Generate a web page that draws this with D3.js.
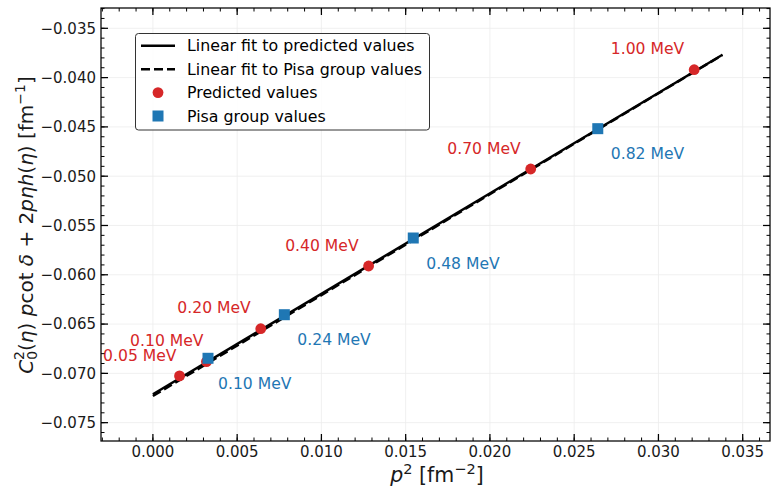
<!DOCTYPE html>
<html>
<head>
<meta charset="utf-8">
<script src="https://cdn.jsdelivr.net/npm/d3@7/dist/d3.min.js"></script>
<style>
  html, body { margin: 0; padding: 0; background: #fff; }
  svg { display: block; font-family: "DejaVu Sans", sans-serif; }
</style>
</head>
<body>
<svg id="chart" width="771" height="488"></svg>
<script>
// ---- data ----
const predEnergies = ["0.05 MeV", "0.10 MeV", "0.20 MeV", "0.40 MeV", "0.70 MeV", "1.00 MeV"];
const predP2 = [0.00158, 0.00318, 0.00640, 0.01280, 0.02242, 0.03212];
const predY = [-0.07026, -0.06881, -0.06547, -0.05911, -0.04927, -0.03920];

const pisaEnergies = ["0.10 MeV", "0.24 MeV", "0.48 MeV", "0.82 MeV"];
const pisaP2 = [0.00327, 0.00780, 0.01545, 0.02640];
const pisaY = [-0.06847, -0.06405, -0.05627, -0.04518];

const fitX = [0, 0.03380];
const predFitY = [-0.07212, -0.03768];
const pisaFitY = [-0.07230, -0.03770];

const xTicks = [0.000, 0.005, 0.010, 0.015, 0.020, 0.025, 0.030, 0.035];
const yTicks = [-0.075, -0.070, -0.065, -0.060, -0.055, -0.050, -0.045, -0.040, -0.035];
const legendLabels = ["Linear fit to predicted values", "Linear fit to Pisa group values", "Predicted values", "Pisa group values"];

// ---- layout ----
const svg = d3.select("#chart");
const L = 101, R = 770, T = 8, B = 441;
const red = "#d62728", blue = "#1f77b4";

const x = d3.scaleLinear().domain([-0.00308, 0.03662]).range([L, R]);
const y = d3.scaleLinear().domain([-0.07686, -0.03294]).range([B, T]);

const xMinor = d3.range(-3, 37).map(i => i * 0.001).filter(v => v >= x.domain()[0] && v <= x.domain()[1]);
const yMinor = d3.range(-76, -32).map(i => i * 0.001).filter(v => v >= y.domain()[0] && v <= y.domain()[1]);

// grid
const grid = svg.append("g");
grid.selectAll("line.gx").data(xTicks).join("line")
  .attr("x1", d => x(d)).attr("x2", d => x(d)).attr("y1", T).attr("y2", B)
  .attr("stroke", "#ececec").attr("stroke-width", 0.8);
grid.selectAll("line.gy").data(yTicks).join("line")
  .attr("y1", d => y(d)).attr("y2", d => y(d)).attr("x1", L).attr("x2", R)
  .attr("stroke", "#ececec").attr("stroke-width", 0.8);

// clip
svg.append("clipPath").attr("id", "clip").append("rect")
  .attr("x", L).attr("y", T).attr("width", R - L).attr("height", B - T);
const plot = svg.append("g").attr("clip-path", "url(#clip)");

const line = d3.line().x(d => x(d[0])).y(d => y(d[1]));
plot.append("path").datum(d3.zip(fitX, pisaFitY)).attr("d", line)
  .attr("fill", "none").attr("stroke", "#000").attr("stroke-width", 2.5)
  .attr("stroke-dasharray", "9,4");
plot.append("path").datum(d3.zip(fitX, predFitY)).attr("d", line)
  .attr("fill", "none").attr("stroke", "#000").attr("stroke-width", 2.5);

// markers
plot.selectAll("circle.pred").data(d3.range(predP2.length)).join("circle")
  .attr("cx", i => x(predP2[i])).attr("cy", i => y(predY[i])).attr("r", 5.4)
  .attr("fill", red);
const sq = 11;
plot.selectAll("rect.pisa").data(d3.range(pisaP2.length)).join("rect")
  .attr("x", i => x(pisaP2[i]) - sq / 2).attr("y", i => y(pisaY[i]) - sq / 2)
  .attr("width", sq).attr("height", sq).attr("fill", blue);

// annotations (offsets in pixels; the two lowest-energy labels sit closer)
svg.selectAll("text.pl").data(d3.range(predP2.length)).join("text")
  .attr("x", i => x(predP2[i]) - (i < 2 ? 3 : 10)).attr("y", i => y(predY[i]) - 21)
  .attr("dy", "0.36em").attr("text-anchor", "end")
  .attr("font-size", 15.6).attr("fill", red).text(i => predEnergies[i]);
svg.selectAll("text.bl").data(d3.range(pisaP2.length)).join("text")
  .attr("x", i => x(pisaP2[i]) + (i === 0 ? 10 : 13)).attr("y", i => y(pisaY[i]) + 25)
  .attr("dy", "0.36em").attr("text-anchor", "start")
  .attr("font-size", 15.6).attr("fill", blue).text(i => pisaEnergies[i]);

// spines
svg.append("rect").attr("x", L).attr("y", T).attr("width", R - L).attr("height", B - T)
  .attr("fill", "none").attr("stroke", "#000").attr("stroke-width", 1.25);

// ticks (inward, all sides)
const ticks = svg.append("g").attr("stroke", "#000");
const majL = 7, minL = 3.5;
xTicks.forEach(v => {
  ticks.append("line").attr("x1", x(v)).attr("x2", x(v)).attr("y1", B).attr("y2", B - majL).attr("stroke-width", 1.25);
  ticks.append("line").attr("x1", x(v)).attr("x2", x(v)).attr("y1", T).attr("y2", T + majL).attr("stroke-width", 1.25);
});
xMinor.forEach(v => {
  ticks.append("line").attr("x1", x(v)).attr("x2", x(v)).attr("y1", B).attr("y2", B - minL).attr("stroke-width", 1);
  ticks.append("line").attr("x1", x(v)).attr("x2", x(v)).attr("y1", T).attr("y2", T + minL).attr("stroke-width", 1);
});
yTicks.forEach(v => {
  ticks.append("line").attr("y1", y(v)).attr("y2", y(v)).attr("x1", L).attr("x2", L + majL).attr("stroke-width", 1.25);
  ticks.append("line").attr("y1", y(v)).attr("y2", y(v)).attr("x1", R).attr("x2", R - majL).attr("stroke-width", 1.25);
});
yMinor.forEach(v => {
  ticks.append("line").attr("y1", y(v)).attr("y2", y(v)).attr("x1", L).attr("x2", L + minL).attr("stroke-width", 1);
  ticks.append("line").attr("y1", y(v)).attr("y2", y(v)).attr("x1", R).attr("x2", R - minL).attr("stroke-width", 1);
});

// tick labels
const fmt = v => d3.format(".3f")(v).replace("-", "\u2212");
svg.selectAll("text.xt").data(xTicks).join("text")
  .attr("x", d => x(d)).attr("y", B + 16).attr("text-anchor", "middle")
  .attr("font-size", 15).attr("fill", "#1a1a1a").text(fmt);
svg.selectAll("text.yt").data(yTicks).join("text")
  .attr("x", L - 5).attr("y", d => y(d)).attr("dy", "0.36em").attr("text-anchor", "end")
  .attr("font-size", 15).attr("fill", "#1a1a1a").text(fmt);

// axis labels
const xl = svg.append("text").attr("x", 437).attr("y", 482).attr("text-anchor", "middle")
  .attr("font-size", 20.5).attr("fill", "#1a1a1a");
xl.append("tspan").attr("font-style", "italic").text("p");
xl.append("tspan").attr("dy", -8).attr("font-size", 14.5).text("2");
xl.append("tspan").attr("dy", 8).text(" [fm");
xl.append("tspan").attr("dy", -8).attr("font-size", 14.5).text("\u22122");
xl.append("tspan").attr("dy", 8).text("]");

const yl = svg.append("text").attr("transform", "translate(33,225) rotate(-90)")
  .attr("text-anchor", "middle").attr("font-size", 20).attr("fill", "#1a1a1a");
yl.append("tspan").attr("font-style", "italic").text("C");
yl.append("tspan").attr("dy", 4).attr("font-size", 14).text("0");
yl.append("tspan").attr("dx", -9).attr("dy", -13).attr("font-size", 14).text("2");
yl.append("tspan").attr("dy", 9).text("(");
yl.append("tspan").attr("font-style", "italic").text("\u03b7");
yl.append("tspan").text(") ");
yl.append("tspan").attr("font-style", "italic").text("p");
yl.append("tspan").text("cot ");
yl.append("tspan").attr("font-style", "italic").text("\u03b4");
yl.append("tspan").text(" + 2");
yl.append("tspan").attr("font-style", "italic").text("p\u03b7h");
yl.append("tspan").text("(");
yl.append("tspan").attr("font-style", "italic").text("\u03b7");
yl.append("tspan").text(")  [fm");
yl.append("tspan").attr("dy", -8).attr("font-size", 14).text("\u22121");
yl.append("tspan").attr("dy", 8).text("]");

// legend
const lg = svg.append("g");
lg.append("rect").attr("x", 135.5).attr("y", 33.5).attr("width", 294).attr("height", 96.5)
  .attr("rx", 3).attr("fill", "#fff").attr("fill-opacity", 0.85).attr("stroke", "#333").attr("stroke-width", 1);
const rows = [45.7, 69.3, 92.6, 116];
lg.append("line").attr("x1", 141).attr("x2", 175).attr("y1", rows[0]).attr("y2", rows[0])
  .attr("stroke", "#000").attr("stroke-width", 2.5);
lg.append("line").attr("x1", 141).attr("x2", 175).attr("y1", rows[1]).attr("y2", rows[1])
  .attr("stroke", "#000").attr("stroke-width", 2.5).attr("stroke-dasharray", "9,4");
lg.append("circle").attr("cx", 158).attr("cy", rows[2]).attr("r", 5.4).attr("fill", red);
lg.append("rect").attr("x", 158 - sq / 2).attr("y", rows[3] - sq / 2).attr("width", sq).attr("height", sq).attr("fill", blue);
lg.selectAll("text.lt").data(legendLabels).join("text")
  .attr("x", 187).attr("y", (d, i) => rows[i]).attr("dy", "0.36em")
  .attr("font-size", 15.8).attr("fill", "#000").text(d => d);
</script>
</body>
</html>
